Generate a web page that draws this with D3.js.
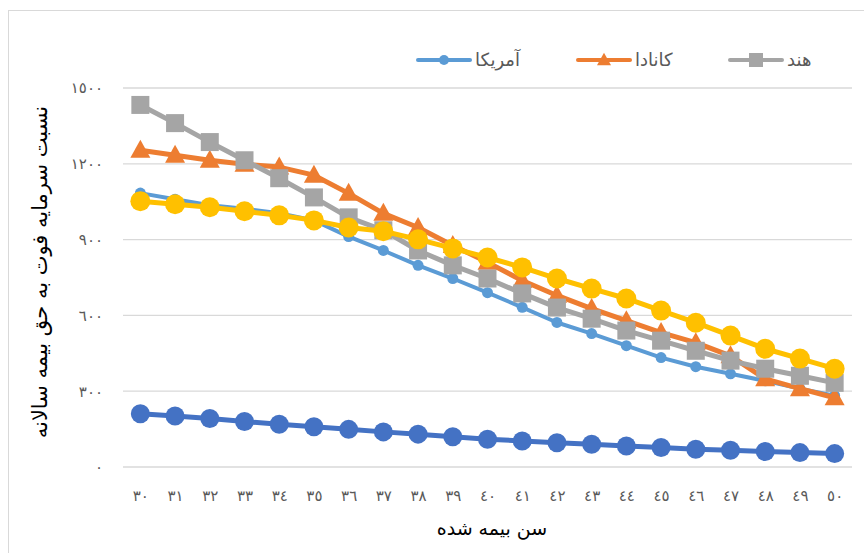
<!DOCTYPE html>
<html>
<head>
<meta charset="utf-8">
<script src="https://cdn.jsdelivr.net/npm/d3@7"></script>
<style>
  body { margin: 0; background: #fff; }
  svg { font-family: 'DejaVu Serif', 'DejaVu Sans', serif; }
</style>
</head>
<body>
<div id="chart"></div>
<script>
const ages = d3.range(30, 51);
const yTicks = [0, 300, 600, 900, 1200, 1500];
const usa = [1084, 1060, 1036, 1022, 1004, 976, 912, 857, 798, 746, 690, 632, 572, 528, 480, 433, 397, 369, 341, 310, 282];
const canada = [1254, 1234, 1214, 1198, 1187, 1155, 1083, 1004, 948, 877, 810, 738, 679, 627, 579, 532, 492, 440, 349, 310, 274];
const india = [1433, 1361, 1286, 1214, 1143, 1067, 988, 937, 857, 798, 746, 687, 631, 587, 540, 500, 460, 421, 389, 361, 333];
const yellow = [1052, 1040, 1028, 1012, 996, 976, 948, 933, 901, 865, 829, 790, 746, 706, 667, 619, 571, 520, 468, 429, 389];
const darkBlue = [211, 202, 192, 180, 169, 159, 149, 139, 130, 120, 110, 103, 96, 90, 83, 77, 70, 66, 61, 57, 53];
const legendNames = ['آمریکا', 'کانادا', 'هند'];

const arDigits = '٠١٢٣٤٥٦٧٨٩';
const toAr = n => String(n).replace(/[0-9]/g, c => arDigits[+c]);

const W = 864, H = 553;
const margin = { t: 88, r: 12, b: 86, l: 123 };

const svg = d3.select('#chart').append('svg')
  .attr('width', W)
  .attr('height', H);

// chart frame
svg.append('rect')
  .attr('x', 8.5).attr('y', 10.5)
  .attr('width', 900).attr('height', 600)
  .attr('fill', 'none')
  .attr('stroke', '#d9d9d9');

const x = d3.scalePoint()
  .domain(ages)
  .range([margin.l, W - margin.r])
  .padding(0.5);

const y = d3.scaleLinear()
  .domain([0, 1500])
  .range([H - margin.b, margin.t]);

// gridlines
svg.append('g')
  .selectAll('line')
  .data(yTicks)
  .enter().append('line')
  .attr('x1', margin.l).attr('x2', W - margin.r)
  .attr('y1', d => y(d)).attr('y2', d => y(d))
  .attr('stroke', '#d9d9d9')
  .attr('stroke-width', 1.3);

// axes (labels only)
const yAxis = d3.axisLeft(y).tickValues(yTicks).tickFormat(toAr).tickSize(0).tickPadding(20);
svg.append('g')
  .attr('transform', `translate(${margin.l}, 0)`)
  .call(yAxis)
  .call(g => g.select('.domain').remove())
  .selectAll('text')
  .attr('fill', '#595959')
  .style('font-family', "'DejaVu Sans', sans-serif")
  .style('font-size', '15px')
  .style('letter-spacing', '2px');

const xAxis = d3.axisBottom(x).tickFormat(toAr).tickSize(0).tickPadding(23);
svg.append('g')
  .attr('transform', `translate(0, ${y(0)})`)
  .call(xAxis)
  .call(g => g.select('.domain').remove())
  .selectAll('text')
  .attr('fill', '#595959')
  .style('font-family', "'DejaVu Sans', sans-serif")
  .style('font-size', '15px')
  .style('letter-spacing', '1px');

// centre a text element on a point using its measured box
function centreOn(sel, cx) {
  const b = sel.node().getBBox();
  sel.attr('x', +sel.attr('x') + (cx - (b.x + b.width / 2)));
}

// axis titles
const xTitle = svg.append('text')
  .attr('x', 0)
  .attr('y', 535)
  .style('font-size', '19px')
  .attr('fill', '#000')
  .text('سن بیمه شده');
centreOn(xTitle, 492);

const yTitle = svg.append('text')
  .attr('x', 0)
  .attr('y', 0)
  .style('font-size', '21px')
  .attr('fill', '#000')
  .text('نسبت سرمایه فوت به حق بیمه سالانه');
centreOn(yTitle, 0);
yTitle.attr('transform', 'translate(47, 272) rotate(-90)');

const line = d3.line()
  .x((d, i) => x(ages[i]))
  .y(d => y(d));

const series = [
  { values: usa, color: '#5b9bd5', width: 4, shape: 'circle', size: 5.5 },
  { values: canada, color: '#ed7d31', width: 5, shape: 'triangle', size: 10 },
  { values: india, color: '#a5a5a5', width: 5, shape: 'square', size: 9 },
  { values: yellow, color: '#ffc000', width: 5, shape: 'circle', size: 10 },
  { values: darkBlue, color: '#4472c4', width: 5, shape: 'circle', size: 9.5 }
];

function drawMarker(g, shape, size, color) {
  if (shape === 'circle') {
    g.append('circle').attr('r', size).attr('fill', color);
  } else if (shape === 'square') {
    g.append('rect')
      .attr('x', -size).attr('y', -size)
      .attr('width', size * 2).attr('height', size * 2)
      .attr('fill', color);
  } else {
    g.append('path')
      .attr('d', `M0,${-size * 1.05} L${size},${size * 0.75} L${-size},${size * 0.75} Z`)
      .attr('fill', color);
  }
}

series.forEach(s => {
  const g = svg.append('g');
  g.append('path')
    .datum(s.values)
    .attr('d', line)
    .attr('fill', 'none')
    .attr('stroke', s.color)
    .attr('stroke-width', s.width)
    .attr('stroke-linejoin', 'round');

  g.selectAll('.marker')
    .data(s.values)
    .enter().append('g')
    .attr('class', 'marker')
    .attr('transform', (d, i) => `translate(${x(ages[i])}, ${y(d)})`)
    .each(function () { drawMarker(d3.select(this), s.shape, s.size, s.color); });
});

// legend
const legendX = [418, 578, 730];
legendNames.forEach((name, i) => {
  const s = series[i];
  const lg = svg.append('g').attr('transform', `translate(${legendX[i]}, 60)`);
  lg.append('line')
    .attr('x1', 0).attr('x2', 52)
    .attr('stroke', s.color)
    .attr('stroke-width', 4)
    .attr('stroke-linecap', 'round');
  drawMarker(lg.append('g').attr('transform', 'translate(26, 0)'), s.shape, s.shape === 'circle' ? 5 : 7, s.color);
  lg.append('text')
    .attr('x', 57)
    .attr('y', 6)
    .attr('fill', '#595959')
    .style('font-size', '18px')
    .text(name);
});
</script>
</body>
</html>
